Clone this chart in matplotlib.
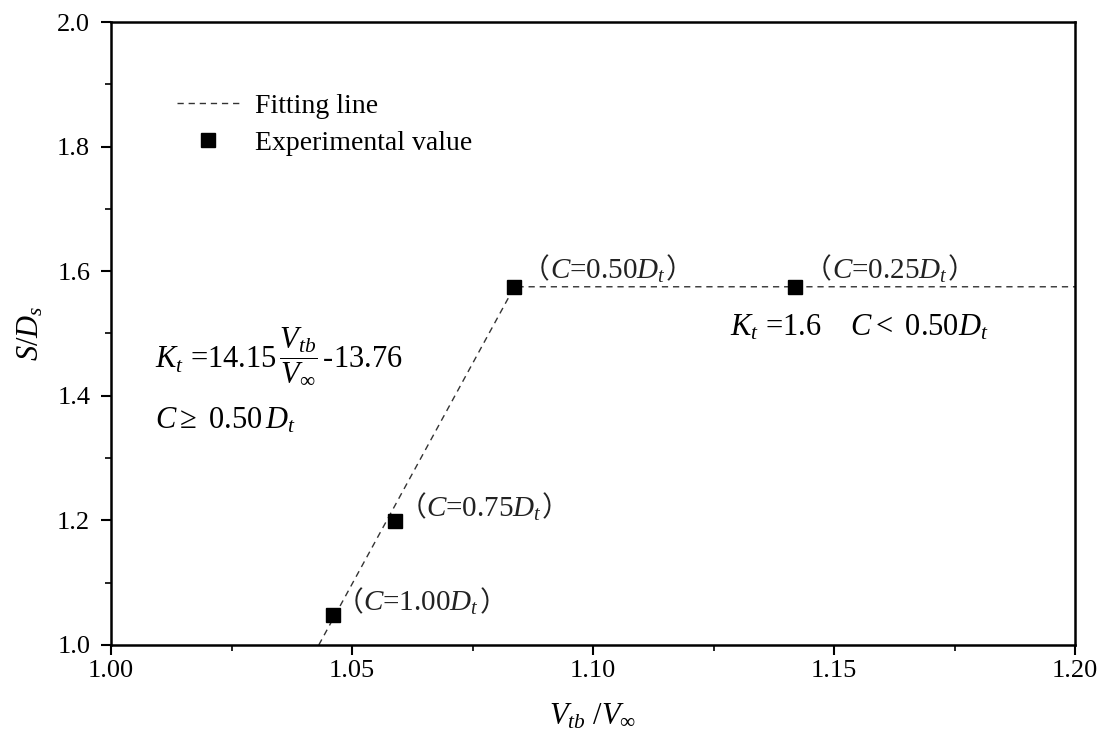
import matplotlib.pyplot as plt
from matplotlib.ticker import MultipleLocator
from matplotlib.offsetbox import TextArea, HPacker, AnnotationBbox

plt.rcParams['font.family'] = ['Liberation Serif', 'Noto Sans CJK SC']
plt.rcParams['mathtext.fontset'] = 'custom'
plt.rcParams['mathtext.rm'] = 'Liberation Serif'
plt.rcParams['mathtext.it'] = 'Liberation Serif:italic'

# fitted relation (piecewise) and measured points
fit_x = [1.0431, 1.0837, 1.20]
fit_y = [1.0, 1.575, 1.575]
exp_x = [1.046, 1.059, 1.0835, 1.142]
exp_y = [1.048, 1.199, 1.575, 1.575]
exp_labels = ['$C$=1.00$D_t$', '$C$=0.75$D_t$', '$C$=0.50$D_t$', '$C$=0.25$D_t$']
label_offsets = [(2, -2), (2, -2), (6, 1), (6, 1)]

fig = plt.figure(figsize=(11.06, 7.49), dpi=100)
ax = fig.add_axes([0.1004, 0.1389, 0.8716, 0.8317])

ax.plot(fit_x, fit_y, ls=(0, (4.5, 3.5)), color='#333333', lw=1.0, label='Fitting line')
ax.plot(exp_x, exp_y, ls='none', marker='s', ms=10, color='black',
        label='Experimental value')

# point labels with full-width brackets drawn in the CJK font
cjk = dict(fontsize=20, family='Noto Sans CJK SC', color='#222222')
for x, y, s, off in zip(exp_x, exp_y, exp_labels, label_offsets):
    box = HPacker(children=[TextArea('（', textprops=cjk),
                            TextArea(s, textprops=dict(fontsize=21, color='#222222')),
                            TextArea('）', textprops=cjk)],
                  pad=0, sep=0, align='baseline')
    ab = AnnotationBbox(box, (x, y), xybox=off, boxcoords='offset points',
                        box_alignment=(0, 0), frameon=False, pad=0)
    ax.add_artist(ab)

ax.text(1.0092, 1.465, r'$K_t$ =14.15$\,\dfrac{V_{tb}}{V_\infty}\,$-13.76', fontsize=22, va='center')
ax.text(1.0092, 1.36, r'$C \geq$ 0.50$\,D_t$', fontsize=22, va='center')
ax.text(1.1285, 1.51, r'$K_t$ =1.6    $C <$ 0.50$D_t$', fontsize=22, va='center')

ax.set_xlim(1.00, 1.20)
ax.set_ylim(1.0, 2.0)
ax.xaxis.set_major_locator(MultipleLocator(0.05))
ax.xaxis.set_minor_locator(MultipleLocator(0.025))
ax.yaxis.set_major_locator(MultipleLocator(0.2))
ax.yaxis.set_minor_locator(MultipleLocator(0.1))
ax.xaxis.set_major_formatter(lambda v, p: f'{v:.2f}')
ax.yaxis.set_major_formatter(lambda v, p: f'{v:.1f}')
ax.tick_params(which='major', direction='out', length=7, width=1.5, labelsize=19, pad=8)
ax.tick_params(axis='x', which='major', pad=4)
ax.tick_params(which='minor', direction='out', length=4, width=1.2)
for sp in ax.spines.values():
    sp.set_linewidth(1.8)

ax.set_xlabel(r'$V_{tb}$ /$V_\infty$', fontsize=22, labelpad=14)
ax.set_ylabel(r'$S/D_s$', fontsize=22, labelpad=8)

ax.legend(loc='upper left', bbox_to_anchor=(0.043, 0.925), frameon=False, fontsize=20,
          handlelength=2.2, handletextpad=0.6, labelspacing=0.4)

fig.savefig('out.png', dpi=100)
